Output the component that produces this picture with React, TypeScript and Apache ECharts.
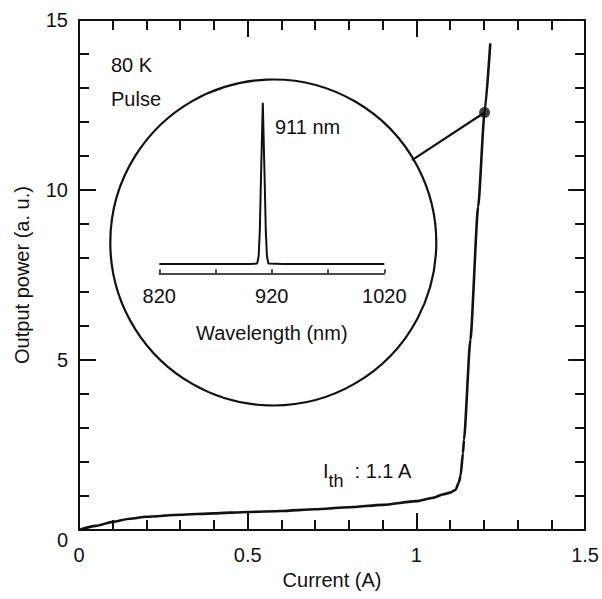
import React, { useEffect, useRef } from "react";
import * as echarts from "echarts";

const currentA = [0, 0.05, 0.1, 0.15, 0.2, 0.3, 0.4, 0.5, 0.6, 0.7, 0.8, 0.9, 1.0, 1.05, 1.08, 1.1, 1.116, 1.126, 1.131, 1.138, 1.141, 1.16, 1.183, 1.202, 1.219];
const powerAU = [0, 0.12, 0.24, 0.33, 0.39, 0.45, 0.49, 0.53, 0.56, 0.61, 0.67, 0.74, 0.85, 0.95, 1.05, 1.1, 1.18, 1.4, 1.6, 2.26, 2.65, 5.6, 9.5, 12.28, 14.31];

const markedPoint = [1.202, 12.28];
const leaderEnd = [0.987, 10.88];

const wavelengthNm = [820, 900, 907, 908.3, 909.35, 910.35, 912, 913.65, 914.65, 915.7, 917, 930, 1020];
const intensity = [0.055, 0.055, 0.057, 0.1, 0.25, 0.55, 1.0, 0.55, 0.25, 0.1, 0.057, 0.055, 0.055];

const insetTickLabels = [820, 920, 1020];

const FONT = "Liberation Sans, Arial, Helvetica, sans-serif";
const INK = "#111";

export default function App() {
  const ref = useRef<HTMLDivElement>(null);
  useEffect(() => {
    if (!ref.current) return;
    const chart = echarts.init(ref.current, undefined, { renderer: "svg" });
    const mainAxisCommon = {
      type: "value",
      axisLine: { show: true, onZero: false, lineStyle: { color: INK, width: 2 } },
      axisTick: { show: true, inside: true, length: 17, lineStyle: { color: INK, width: 2 } },
      minorTick: { show: true, splitNumber: 5, length: 10, lineStyle: { color: INK, width: 2 } },
      splitLine: { show: false },
      minorSplitLine: { show: false },
    };
    const option: any = {
      animation: false,
      backgroundColor: "#fff",
      textStyle: { fontFamily: FONT },
      grid: [
        { left: 79, right: 11, top: 20, bottom: 69 },
        { left: 159.3, right: 217.7, top: 102.7, bottom: 325.7 },
      ],
      xAxis: [
        {
          ...mainAxisCommon,
          gridIndex: 0,
          min: 0,
          max: 1.5,
          interval: 0.5,
          position: "bottom",
          name: "Current (A)",
          nameLocation: "middle",
          nameGap: 40,
          nameTextStyle: { fontSize: 20, color: INK, fontFamily: FONT },
          axisLabel: {
            fontSize: 20,
            color: INK,
            margin: 15,
            fontFamily: FONT,
            formatter: (v: number) => String(v),
          },
        },
        {
          ...mainAxisCommon,
          gridIndex: 0,
          min: 0,
          max: 1.5,
          interval: 0.5,
          position: "top",
          axisLabel: { show: false },
        },
        {
          type: "value",
          gridIndex: 1,
          min: 820,
          max: 1020,
          interval: 50,
          position: "bottom",
          axisLine: { show: true, onZero: false, lineStyle: { color: INK, width: 1.5 } },
          axisTick: { show: true, inside: true, length: 4, lineStyle: { color: INK, width: 1.5 } },
          splitLine: { show: false },
          name: "Wavelength (nm)",
          nameLocation: "middle",
          nameGap: 50,
          nameTextStyle: { fontSize: 20, color: INK, fontFamily: FONT },
          axisLabel: {
            fontSize: 20,
            color: INK,
            margin: 13,
            fontFamily: FONT,
            formatter: (v: number) => (insetTickLabels.includes(v) ? String(v) : ""),
          },
        },
      ],
      yAxis: [
        {
          ...mainAxisCommon,
          gridIndex: 0,
          min: 0,
          max: 15,
          interval: 5,
          position: "left",
          name: "Output power (a. u.)",
          nameLocation: "middle",
          nameGap: 47,
          nameTextStyle: { fontSize: 20, color: INK, fontFamily: FONT },
          axisLabel: {
            fontSize: 20,
            color: INK,
            margin: 11,
            fontFamily: FONT,
            verticalAlignMinLabel: "top",
          },
        },
        {
          ...mainAxisCommon,
          gridIndex: 0,
          min: 0,
          max: 15,
          interval: 5,
          position: "right",
          axisLabel: { show: false },
        },
        {
          type: "value",
          gridIndex: 1,
          min: 0,
          max: 1,
          show: false,
        },
      ],
      series: [
        {
          type: "line",
          xAxisIndex: 0,
          yAxisIndex: 0,
          data: currentA.map((x, i) => [x, powerAU[i]]),
          showSymbol: false,
          smooth: 0.2,
          smoothMonotone: "x",
          lineStyle: { color: INK, width: 2.6 },
          z: 3,
        },
        {
          type: "line",
          xAxisIndex: 0,
          yAxisIndex: 0,
          data: [leaderEnd, markedPoint],
          showSymbol: false,
          lineStyle: { color: INK, width: 2.2 },
          z: 3,
        },
        {
          type: "scatter",
          xAxisIndex: 0,
          yAxisIndex: 0,
          data: [markedPoint],
          symbolSize: 11,
          itemStyle: { color: INK },
          z: 4,
        },
        {
          type: "line",
          xAxisIndex: 2,
          yAxisIndex: 2,
          data: wavelengthNm.map((x, i) => [x, intensity[i]]),
          showSymbol: false,
          lineStyle: { color: INK, width: 2 },
          z: 3,
        },
      ],
      graphic: [
        {
          type: "circle",
          shape: { cx: 273.3, cy: 242.5, r: 163 },
          style: { fill: "none", stroke: INK, lineWidth: 2.2 },
          z: 2,
        },
        {
          type: "text",
          x: 111,
          y: 65,
          style: { text: "80 K", font: `20px ${FONT}`, fill: INK, verticalAlign: "middle" },
        },
        {
          type: "text",
          x: 111,
          y: 99,
          style: { text: "Pulse", font: `20px ${FONT}`, fill: INK, verticalAlign: "middle" },
        },
        {
          type: "text",
          x: 275,
          y: 127,
          style: { text: "911 nm", font: `20px ${FONT}`, fill: INK, verticalAlign: "middle" },
        },
        {
          type: "text",
          x: 323,
          y: 471,
          style: { text: "I", font: `20px ${FONT}`, fill: INK, verticalAlign: "middle" },
        },
        {
          type: "text",
          x: 328.5,
          y: 481,
          style: { text: "th", font: `18px ${FONT}`, fill: INK, verticalAlign: "middle" },
        },
        {
          type: "text",
          x: 349,
          y: 471,
          style: { text: " : 1.1 A", font: `20px ${FONT}`, fill: INK, verticalAlign: "middle" },
        },
      ],
    };
    chart.setOption(option);
    return () => chart.dispose();
  }, []);
  return <div ref={ref} style={{ width: 602, height: 599, position: "absolute", left: 0, top: 0 }} />;
}
